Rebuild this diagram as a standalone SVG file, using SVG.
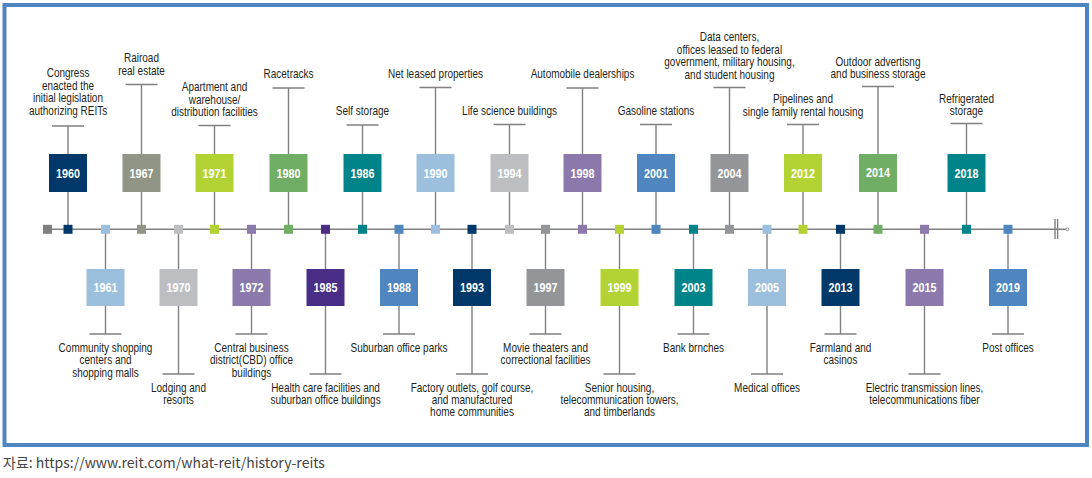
<svg xmlns="http://www.w3.org/2000/svg" width="1092" height="478" viewBox="0 0 1092 478">
<style>
.frame{fill:#fff;stroke:#4f86c1;stroke-width:4}
.ln{stroke:#808080;stroke-width:1.4;fill:none}
.lbl{font-family:"Liberation Sans",Arial,sans-serif;font-size:12.5px;fill:#231f20;text-anchor:middle;transform-box:fill-box;transform-origin:center;transform:scaleX(0.8)}
.yr{font-family:"Liberation Sans",Arial,sans-serif;font-size:13px;font-weight:bold;fill:#fff;text-anchor:middle;transform-box:fill-box;transform-origin:center;transform:scaleX(0.83)}
.src{font-family:"Noto Sans CJK KR","Noto Sans",sans-serif;font-size:14px;fill:#444}
.navy{fill:#003869}.gg{fill:#909585}.lime{fill:#b3d234}.green{fill:#6fae64}.teal{fill:#008489}
.lblue{fill:#9bbfdc}.lgrey{fill:#bdbec1}.purple{fill:#8b79ab}.blue{fill:#4f86c0}.grey{fill:#939598}
.dpurple{fill:#4a2d86}.dgrey{fill:#808080}
</style>
<rect class="frame" x="4.5" y="5" width="1082.5" height="440"/>
<g id="connectors">
<line class="ln" x1="47" y1="229.3" x2="1066" y2="229.3"/>
<circle cx="1067.3" cy="229.3" r="1.5" fill="#fff" stroke="#808080" stroke-width="0.9"/>
<line class="ln" x1="1055" y1="219" x2="1055" y2="239"/>
<line class="ln" x1="1057.6" y1="219" x2="1057.6" y2="239"/>
<path class="ln" d="M68 126V229M52 126H84M141.5 84.5V229M125.5 84.5H157.5M214.5 125.5V229M198.5 125.5H230.5M288.5 88V229M272.5 88H304.5M362.5 125V229M346.5 125H378.5M435.5 87.5V229M419.5 87.5H451.5M509.5 124.5V229M493.5 124.5H525.5M582.5 88V229M566.5 88H598.5M656 124.5V229M640 124.5H672M729.5 87.5V229M713.5 87.5H745.5M803 124.5V229M787 124.5H819M878 86.5V229M862 86.5H894M966.5 123.5V229M950.5 123.5H982.5"/>
<path class="ln" d="M105.5 229V334M89.5 334H121.5M178.5 229V374M162.5 374H194.5M251.5 229V334M235.5 334H267.5M325.5 229V374M309.5 374H341.5M399 229V334M383 334H415M472 229V374M456 374H488M545.5 229V334M529.5 334H561.5M619.5 229V374M603.5 374H635.5M693.5 229V334M677.5 334H709.5M767 229V374M751 374H783M840.5 229V334M824.5 334H856.5M924.5 229V374M908.5 374H940.5M1008 229V334M992 334H1024"/>
</g>
<rect class="dgrey" x="43" y="224.8" width="9" height="9"/>
<g id="n1960"><rect class="navy" x="63.5" y="224.8" width="9" height="9"/><rect class="navy" x="49" y="154" width="38" height="38"/><text class="yr" x="68" y="177.7">1960</text><text class="lbl"><tspan x="68" y="77.5">Congress</tspan><tspan x="68" y="90">enacted the</tspan><tspan x="68" y="102.5">initial legislation</tspan><tspan x="68" y="115">authorizing REITs</tspan></text></g>
<g id="n1967"><rect class="gg" x="137" y="224.8" width="9" height="9"/><rect class="gg" x="122.5" y="154" width="38" height="38"/><text class="yr" x="141.5" y="177.7">1967</text><text class="lbl"><tspan x="141.5" y="62.5">Rairoad</tspan><tspan x="141.5" y="75">real estate</tspan></text></g>
<g id="n1971"><rect class="lime" x="210" y="224.8" width="9" height="9"/><rect class="lime" x="195.5" y="154" width="38" height="38"/><text class="yr" x="214.5" y="177.7">1971</text><text class="lbl"><tspan x="214.5" y="91.5">Apartment and</tspan><tspan x="214.5" y="104">warehouse/</tspan><tspan x="214.5" y="116.5">distribution facilities</tspan></text></g>
<g id="n1980"><rect class="green" x="284" y="224.8" width="9" height="9"/><rect class="green" x="269.5" y="154" width="38" height="38"/><text class="yr" x="288.5" y="177.7">1980</text><text class="lbl" x="288.5" y="78.5">Racetracks</text></g>
<g id="n1986"><rect class="teal" x="358" y="224.8" width="9" height="9"/><rect class="teal" x="343.5" y="154" width="38" height="38"/><text class="yr" x="362.5" y="177.7">1986</text><text class="lbl" x="362.5" y="115">Self storage</text></g>
<g id="n1990"><rect class="lblue" x="431" y="224.8" width="9" height="9"/><rect class="lblue" x="416.5" y="154" width="38" height="38"/><text class="yr" x="435.5" y="177.7">1990</text><text class="lbl" x="435.5" y="78">Net leased properties</text></g>
<g id="n1994"><rect class="lgrey" x="505" y="224.8" width="9" height="9"/><rect class="lgrey" x="490.5" y="154" width="38" height="38"/><text class="yr" x="509.5" y="177.7">1994</text><text class="lbl" x="509.5" y="115">Life science buildings</text></g>
<g id="n1998"><rect class="purple" x="578" y="224.8" width="9" height="9"/><rect class="purple" x="563.5" y="154" width="38" height="38"/><text class="yr" x="582.5" y="177.7">1998</text><text class="lbl" x="582.5" y="78">Automobile dealerships</text></g>
<g id="n2001"><rect class="blue" x="651.5" y="224.8" width="9" height="9"/><rect class="blue" x="637" y="154" width="38" height="38"/><text class="yr" x="656" y="177.7">2001</text><text class="lbl" x="656" y="115">Gasoline stations</text></g>
<g id="n2004"><rect class="grey" x="725" y="224.8" width="9" height="9"/><rect class="grey" x="710.5" y="154" width="38" height="38"/><text class="yr" x="729.5" y="177.7">2004</text><text class="lbl"><tspan x="729.5" y="41.5">Data centers,</tspan><tspan x="729.5" y="54">offices leased to federal</tspan><tspan x="729.5" y="66.5">government, military housing,</tspan><tspan x="729.5" y="79">and student housing</tspan></text></g>
<g id="n2012"><rect class="lime" x="798.5" y="224.8" width="9" height="9"/><rect class="lime" x="784" y="154" width="38" height="38"/><text class="yr" x="803" y="177.7">2012</text><text class="lbl"><tspan x="803" y="103.5">Pipelines and</tspan><tspan x="803" y="116">single family rental housing</tspan></text></g>
<g id="n2014"><rect class="green" x="873.5" y="224.8" width="9" height="9"/><rect class="green" x="859" y="154" width="38" height="38"/><text class="yr" x="878" y="177">2014</text><text class="lbl"><tspan x="878" y="66">Outdoor advertisng</tspan><tspan x="878" y="78.5">and business storage</tspan></text></g>
<g id="n2018"><rect class="teal" x="962" y="224.8" width="9" height="9"/><rect class="teal" x="947.5" y="154" width="38" height="38"/><text class="yr" x="966.5" y="177.7">2018</text><text class="lbl"><tspan x="966.5" y="103">Refrigerated</tspan><tspan x="966.5" y="115.5">storage</tspan></text></g>
<g id="n1961"><rect class="lblue" x="101" y="224.8" width="9" height="9"/><rect class="lblue" x="86.5" y="269" width="38" height="37"/><text class="yr" x="105.5" y="292">1961</text><text class="lbl"><tspan x="105.5" y="352">Community shopping</tspan><tspan x="105.5" y="364.5">centers and</tspan><tspan x="105.5" y="377">shopping malls</tspan></text></g>
<g id="n1970"><rect class="lgrey" x="174" y="224.8" width="9" height="9"/><rect class="lgrey" x="159.5" y="269" width="38" height="37"/><text class="yr" x="178.5" y="292">1970</text><text class="lbl"><tspan x="178.5" y="392">Lodging and</tspan><tspan x="178.5" y="404.5">resorts</tspan></text></g>
<g id="n1972"><rect class="purple" x="247" y="224.8" width="9" height="9"/><rect class="purple" x="232.5" y="269" width="38" height="37"/><text class="yr" x="251.5" y="292">1972</text><text class="lbl"><tspan x="251.5" y="352">Central business</tspan><tspan x="251.5" y="364.5">district(CBD) office</tspan><tspan x="251.5" y="377">buildings</tspan></text></g>
<g id="n1985"><rect class="dpurple" x="321" y="224.8" width="9" height="9"/><rect class="dpurple" x="306.5" y="269" width="38" height="37"/><text class="yr" x="325.5" y="292">1985</text><text class="lbl"><tspan x="325.5" y="392">Health care facilities and</tspan><tspan x="325.5" y="404.5">suburban office buildings</tspan></text></g>
<g id="n1988"><rect class="blue" x="394.5" y="224.8" width="9" height="9"/><rect class="blue" x="380" y="269" width="38" height="37"/><text class="yr" x="399" y="292">1988</text><text class="lbl" x="399" y="352">Suburban office parks</text></g>
<g id="n1993"><rect class="navy" x="467.5" y="224.8" width="9" height="9"/><rect class="navy" x="453" y="269" width="38" height="37"/><text class="yr" x="472" y="292">1993</text><text class="lbl"><tspan x="472" y="392">Factory outlets, golf course,</tspan><tspan x="472" y="404.5">and manufactured</tspan><tspan x="472" y="416.5">home communities</tspan></text></g>
<g id="n1997"><rect class="grey" x="541" y="224.8" width="9" height="9"/><rect class="grey" x="526.5" y="269" width="38" height="37"/><text class="yr" x="545.5" y="292">1997</text><text class="lbl"><tspan x="545.5" y="352">Movie theaters and</tspan><tspan x="545.5" y="364.5">correctional facilities</tspan></text></g>
<g id="n1999"><rect class="lime" x="615" y="224.8" width="9" height="9"/><rect class="lime" x="600.5" y="269" width="38" height="37"/><text class="yr" x="619.5" y="292">1999</text><text class="lbl"><tspan x="619.5" y="392">Senior housing,</tspan><tspan x="619.5" y="404.5">telecommunication towers,</tspan><tspan x="619.5" y="416.5">and timberlands</tspan></text></g>
<g id="n2003"><rect class="teal" x="689" y="224.8" width="9" height="9"/><rect class="teal" x="674.5" y="269" width="38" height="37"/><text class="yr" x="693.5" y="292">2003</text><text class="lbl" x="693.5" y="352">Bank brnches</text></g>
<g id="n2005"><rect class="lblue" x="762.5" y="224.8" width="9" height="9"/><rect class="lblue" x="748" y="269" width="38" height="37"/><text class="yr" x="767" y="292">2005</text><text class="lbl" x="767" y="392">Medical offices</text></g>
<g id="n2013"><rect class="navy" x="836" y="224.8" width="9" height="9"/><rect class="navy" x="821.5" y="269" width="38" height="37"/><text class="yr" x="840.5" y="292">2013</text><text class="lbl"><tspan x="840.5" y="352">Farmland and</tspan><tspan x="840.5" y="364.5">casinos</tspan></text></g>
<g id="n2015"><rect class="purple" x="920" y="224.8" width="9" height="9"/><rect class="purple" x="905.5" y="269" width="38" height="37"/><text class="yr" x="924.5" y="292">2015</text><text class="lbl"><tspan x="924.5" y="392">Electric transmission lines,</tspan><tspan x="924.5" y="404.5">telecommunications fiber</tspan></text></g>
<g id="n2019"><rect class="blue" x="1003.5" y="224.8" width="9" height="9"/><rect class="blue" x="989" y="269" width="38" height="37"/><text class="yr" x="1008" y="292">2019</text><text class="lbl" x="1008" y="352">Post offices</text></g>
<text class="src" x="3" y="467.5">자료: https://www.reit.com/what-reit/history-reits</text>
</svg>
